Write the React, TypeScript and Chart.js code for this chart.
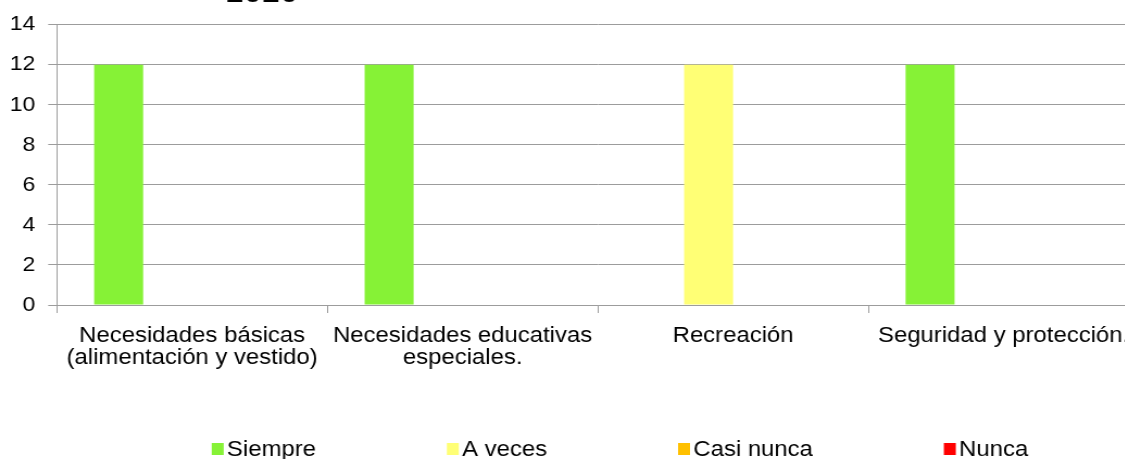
import { useEffect, useRef } from "react";
import { Chart, registerables } from "chart.js";
Chart.register(...registerables);

const categories = [
  ["Necesidades básicas", "(alimentación y vestido)"],
  ["Necesidades educativas", "especiales."],
  ["Recreación"],
  ["Seguridad y protección."],
];
const seriesNames = ["Siempre", "A veces", "Casi nunca", "Nunca"];
const siempre = [12, 12, 0, 12];
const aVeces = [0, 0, 12, 0];
const casiNunca = [0, 0, 0, 0];
const nunca = [0, 0, 0, 0];
const seriesColors = ["#86F236", "#FFFF75", "#FFC000", "#FF0000"];
const yMin = 0;
const yMax = 14;
const yStep = 2;
const titleText = "2020";

const FONT = '"Liberation Sans", Arial, Helvetica, sans-serif';
const GRID = "#9c9c9c";
const INNER_W = 1131;
const CSS_W = 1229;
const H = 459;

const titlePlugin = {
  id: "partialTitle",
  afterDraw(chart: any) {
    const ctx = chart.ctx;
    ctx.save();
    ctx.font = `30px ${FONT}`;
    ctx.fillStyle = "#000";
    ctx.textAlign = "center";
    ctx.textBaseline = "alphabetic";
    ctx.fillText(titleText, 241, 1.5);
    ctx.restore();
  },
};

const legendPlugin = {
  id: "customLegend",
  afterDraw(chart: any) {
    const ctx = chart.ctx;
    const ds = chart.data.datasets;
    ctx.save();
    ctx.font = `22px ${FONT}`;
    const box = 11;
    const gap = 3;
    const itemGap = 120.5;
    const widths = ds.map((d: any) => box + gap + ctx.measureText(d.label).width);
    const total = widths.reduce((a: number, b: number) => a + b, 0) + itemGap * (ds.length - 1);
    let x = chart.width / 2 + 5 - total / 2;
    const boxTop = chart.height - 16;
    const baseline = chart.height - 3;
    ds.forEach((d: any, i: number) => {
      ctx.fillStyle = d.backgroundColor;
      ctx.fillRect(x, boxTop, box, 12);
      ctx.fillStyle = "#000";
      ctx.textAlign = "left";
      ctx.textBaseline = "alphabetic";
      ctx.fillText(d.label, x + box + gap, baseline);
      x += widths[i] + itemGap;
    });
    ctx.restore();
  },
};

export default function App() {
  const ref = useRef<HTMLCanvasElement>(null);
  useEffect(() => {
    const canvas = ref.current!;
    const values = [siempre, aVeces, casiNunca, nunca];
    const chart = new Chart(canvas, {
      type: "bar",
      data: {
        labels: categories,
        datasets: seriesNames.map((n, i) => ({
          label: n,
          data: values[i],
          backgroundColor: seriesColors[i],
          borderWidth: 0,
          categoryPercentage: 0.7246,
          barPercentage: 1,
        })),
      },
      options: {
        responsive: false,
        animation: false,
        devicePixelRatio: 1,
        layout: { padding: { top: 24, left: -3, right: 83, bottom: 78 } },
        plugins: {
          legend: { display: false },
          title: { display: false },
          tooltip: { enabled: false },
        },
        scales: {
          x: {
            grid: {
              display: true,
              drawOnChartArea: false,
              drawTicks: true,
              tickLength: 8,
              color: GRID,
              offset: true,
            },
            border: { display: true, color: GRID },
            ticks: {
              color: "#000",
              font: { family: FONT, size: 22, lineHeight: 1 },
              padding: 12,
              maxRotation: 0,
              minRotation: 0,
              autoSkip: false,
            },
          },
          y: {
            min: yMin,
            max: yMax,
            ticks: {
              stepSize: yStep,
              color: "#000",
              font: { family: FONT, size: 21 },
              padding: 12,
            },
            grid: { color: GRID, tickLength: 8, drawTicks: true },
            border: { display: true, color: GRID },
          },
        },
      },
      plugins: [titlePlugin, legendPlugin],
    } as any);
    return () => chart.destroy();
  }, []);
  return (
    <div
      style={{
        position: "fixed",
        left: 0,
        top: 0,
        width: 1125,
        height: H,
        overflow: "hidden",
        background: "#fff",
      }}
    >
      <canvas
        ref={ref}
        width={INNER_W}
        height={H}
        style={{ width: `${CSS_W}px`, height: `${H}px`, display: "block" }}
      />
    </div>
  );
}
